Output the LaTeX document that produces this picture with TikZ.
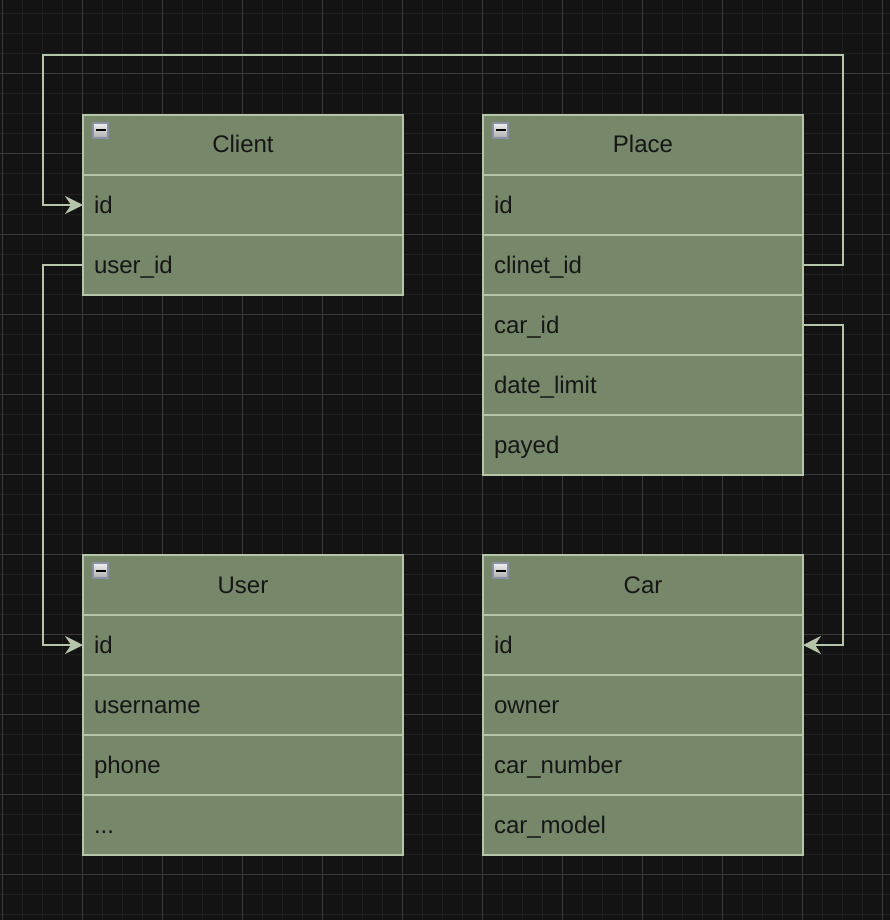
\documentclass[tikz,border=0pt]{standalone}
\usepackage{fontspec}
\setmainfont{Liberation Sans}
\usepackage{tikz}
\usetikzlibrary{positioning,calc}
\usetikzlibrary{arrows.meta}

\definecolor{bgdark}{RGB}{19,19,19}
\definecolor{gridminor}{RGB}{32,32,32}
\definecolor{gridmajor}{RGB}{58,58,58}
\definecolor{tablefill}{RGB}{118,135,106}
\definecolor{tableline}{RGB}{182,197,170}
\definecolor{textdark}{RGB}{22,22,22}
\definecolor{iconline}{RGB}{138,145,165}

\begin{document}
\begin{tikzpicture}[x=1pt, y=-1pt,
	cell/.style={draw=tableline, fill=tablefill, line width=2pt, outer sep=0pt, minimum height=60pt, text width=298pt, inner xsep=11pt, inner ysep=0pt, text height=19pt, text depth=3pt, text=textdark, font=\fontsize{24}{28}\selectfont, align=left},
	head/.style={cell, align=center},
	minusicon/.style={draw=iconline, line width=1.5pt, top color=white!94!black, bottom color=white!68!black, minimum size=15pt, inner sep=0pt, outer sep=0pt, anchor=north west,
		path picture={\draw[black, line width=2pt] ([xshift=2.5pt]path picture bounding box.west) -- ([xshift=-2.5pt]path picture bounding box.east);}},
	link/.style={draw=tableline, line width=2pt, -{Stealth[length=18pt, width=18pt, inset=6pt]}}]

	% background and grid
	\useasboundingbox (0,0) rectangle (890,920);
	\fill[bgdark] (0,0) rectangle (890,920);
	\foreach \x in {2,22,...,882} \draw[gridminor, line width=1pt] (\x,0) -- (\x,920);
	\foreach \y in {14,34,...,914} \draw[gridminor, line width=1pt] (0,\y) -- (890,\y);
	\foreach \x in {2,82,...,882} \draw[gridmajor, line width=1pt] (\x,0) -- (\x,920);
	\foreach \y in {74,154,...,874} \draw[gridmajor, line width=1pt] (0,\y) -- (890,\y);

	% tables
	\node[head, anchor=north west] (client) at (83,115) {Client};
	\node[cell, below=0pt of client] (clientid) {id};
	\node[cell, below=0pt of clientid] (clientuser) {user\_id};

	\node[head, anchor=north west] (place) at (483,115) {Place};
	\node[cell, below=0pt of place] (placeid) {id};
	\node[cell, below=0pt of placeid] (placeclient) {clinet\_id};
	\node[cell, below=0pt of placeclient] (placecar) {car\_id};
	\node[cell, below=0pt of placecar] (placedate) {date\_limit};
	\node[cell, below=0pt of placedate] (placepay) {payed};

	\node[head, anchor=north west] (user) at (83,555) {User};
	\node[cell, below=0pt of user] (userid) {id};
	\node[cell, below=0pt of userid] (username) {username};
	\node[cell, below=0pt of username] (userphone) {phone};
	\node[cell, below=0pt of userphone] (usermore) {...};

	\node[head, anchor=north west] (car) at (483,555) {Car};
	\node[cell, below=0pt of car] (carid) {id};
	\node[cell, below=0pt of carid] (carowner) {owner};
	\node[cell, below=0pt of carowner] (carnumber) {car\_number};
	\node[cell, below=0pt of carnumber] (carmodel) {car\_model};

	\foreach \t in {client,place,user,car}
		\node[minusicon] (\t-min) at ([shift={(10pt,-8pt)}]\t.north west) {};

	% links
	\coordinate (topright) at (843,55);
	\coordinate (topleft) at (43,55);
	\draw[link] (placeclient.east) -| (topright) -- (topleft) |- (clientid.west);
	\draw[link] (clientuser.west) -- ++(-40,0) |- (userid.west);
	\draw[link] (placecar.east) -- ++(40,0) |- (carid.east);
\end{tikzpicture}
\end{document}
